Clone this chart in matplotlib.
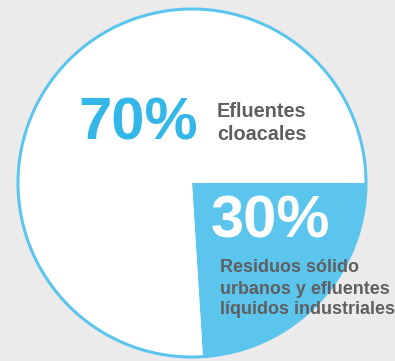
import matplotlib
matplotlib.use("Agg")
import matplotlib.pyplot as plt

# Data
categories = ["Residuos sólido\nurbanos y efluentes\nlíquidos industriales", "Efluentes\ncloacales"]
drawn_shares = [24, 76]          # wedge sizes as drawn in the picture
pct_labels = ["30%", "70%"]      # labels printed on the chart

BG = "#ebebeb"
BLUE_FILL = "#5cc5ed"
BLUE_EDGE = "#5cc5ed"
BLUE_TEXT = "#33b6e8"
GREY = "#5f5f5f"

W, H = 395, 361
fig = plt.figure(figsize=(W / 100, H / 100), dpi=100, facecolor=BG)
ax = fig.add_axes([0, 0, 1, 1])
ax.set_facecolor(BG)

cx, cy, r = 192, H - 183, 174
ax.pie(drawn_shares, colors=[BLUE_FILL, "white"], startangle=0,
       counterclock=False, center=(cx, cy), radius=r,
       wedgeprops=dict(linewidth=0), frame=True)
ax.set_xlim(0, W)
ax.set_ylim(0, H)
ax.set_aspect("equal")
ax.axis("off")
circle = plt.Circle((cx, cy), r, fill=False, edgecolor=BLUE_EDGE, linewidth=2.2)
ax.add_patch(circle)

fam = ["Liberation Sans", "DejaVu Sans"]


def lines_at(x, baselines, text, size):
    for yb, line in zip(baselines, text.split("\n")):
        ax.text(x, H - yb, line, fontsize=size, fontweight="bold", color=GREY,
                family=fam, ha="left", va="baseline")


# 70%
ax.text(78, H - 140, pct_labels[1], fontsize=43, fontweight="bold", color=BLUE_TEXT,
        family=fam, ha="left", va="baseline")
lines_at(217, [117, 140], categories[1], 14.3)
# 30%
ax.text(211, H - 238, pct_labels[0], fontsize=43, fontweight="bold", color="white",
        family=fam, ha="left", va="baseline")
lines_at(220, [272.5, 293.5, 314.5], categories[0], 12.9)

fig.savefig("out.png", dpi=100, facecolor=BG)
